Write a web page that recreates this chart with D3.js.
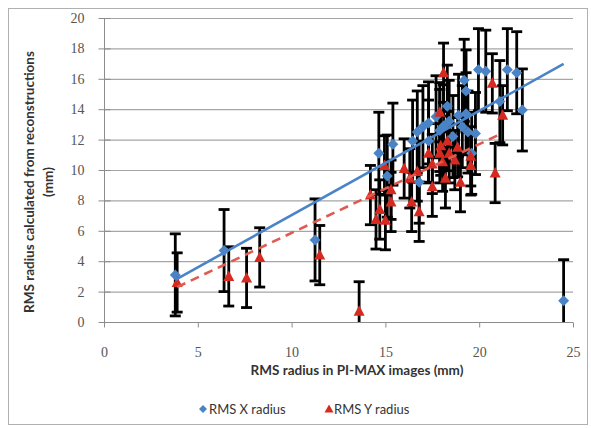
<!DOCTYPE html>
<html>
<head>
<meta charset="utf-8">
<script src="https://cdn.jsdelivr.net/npm/d3@7"></script>
<style>
  body { margin: 0; background: #fff; }
  svg { display: block; }
</style>
</head>
<body>
<div id="chart"></div>
<script>
// RMS X radius: [PI-MAX radius, reconstructed radius] in mm
const xRadius = [
  [3.8, 3.1], [6.4, 4.7], [11.25, 5.4], [14.65, 11.1], [15.4, 11.7], [15.1, 9.6],
  [16.8, 9.2], [16.45, 11.9], [16.7, 12.5], [17.0, 12.85], [17.3, 13.1], [17.3, 11.9],
  [17.7, 13.5], [17.9, 12.6], [18.1, 12.9], [18.3, 14.2], [18.4, 13.2], [18.6, 12.2],
  [18.9, 13.6], [19.1, 12.85], [19.2, 15.9], [19.3, 15.2], [19.4, 12.5], [19.3, 13.7],
  [19.6, 11.1], [19.8, 12.4], [19.96, 16.6], [20.35, 16.5], [21.1, 14.5], [21.5, 16.6],
  [22.0, 16.4], [22.3, 13.95], [24.5, 1.4]
];
// RMS Y radius
const yRadius = [
  [3.9, 2.6], [6.65, 3.0], [7.6, 2.9], [8.3, 4.25], [11.5, 4.4], [13.6, 0.7],
  [14.2, 8.35], [14.5, 6.75], [14.7, 7.4], [14.95, 10.3], [15.0, 6.7], [15.3, 8.7],
  [15.3, 7.9], [16.0, 10.1], [16.3, 9.45], [16.4, 7.9], [16.7, 9.9], [16.8, 7.25],
  [17.3, 11.1], [17.5, 10.4], [17.5, 8.9], [17.9, 13.8], [17.9, 11.1], [17.95, 11.6],
  [18.05, 10.55], [18.1, 16.4], [18.2, 9.45], [18.3, 11.9], [18.4, 11.1], [18.7, 10.65],
  [18.85, 11.5], [19.0, 9.2], [19.55, 10.9], [19.55, 10.3], [20.7, 15.7], [20.85, 9.8],
  [21.25, 13.6]
];
const xErr = 2.7;
const yErr = 1.95;
const xTrend = { slope: 0.686, intercept: 0.17 };
const yTrend = { slope: 0.584, intercept: 0.02 };
const xTicks = [0, 5, 10, 15, 20, 25];
const yTicks = [0, 2, 4, 6, 8, 10, 12, 14, 16, 18, 20];

const width = 591, height = 428;
const blue = "#4a84c6", red = "#d52a20";

const svg = d3.select("#chart").append("svg").attr("width", width).attr("height", height);

svg.append("rect")
  .attr("x", 8.5).attr("y", 8.5).attr("width", 579).attr("height", 416)
  .attr("fill", "#fff").attr("stroke", "#b0b0b0");

const x = d3.scaleLinear().domain([0, 25]).range([104, 573]);
const y = d3.scaleLinear().domain([0, 20]).range([322, 18]);

// gridlines
svg.append("g")
  .selectAll("line")
  .data(yTicks.filter((d) => d > 0))
  .join("line")
  .attr("x1", x(0)).attr("x2", x(25))
  .attr("y1", (d) => y(d) + 0.5).attr("y2", (d) => y(d) + 0.5)
  .attr("stroke", "#a6a6a6").attr("stroke-width", 1.2);

// axes
const yAxis = svg.append("g")
  .attr("transform", `translate(${x(0) + 0.5},0)`)
  .call(d3.axisLeft(y).tickValues(yTicks).tickSize(6).tickPadding(14));
yAxis.selectAll(".tick line").attr("x2", -6).attr("x1", 6).attr("stroke", "#8c8c8c");
yAxis.select(".domain").attr("stroke", "#8c8c8c").attr("d", `M0,${y(20)}V${y(0)}`);

const xAxis = svg.append("g")
  .attr("transform", `translate(0,${y(0) + 0.5})`)
  .call(d3.axisBottom(x).tickValues(xTicks).tickSize(5).tickPadding(20));
xAxis.selectAll(".tick line").attr("stroke", "#8c8c8c");
xAxis.select(".domain").attr("stroke", "#8c8c8c").attr("d", `M${x(0)},0H${x(25)}`);

svg.selectAll(".tick text")
  .attr("font-family", "Liberation Serif, serif")
  .attr("font-size", 14)
  .attr("fill", "#555");

// plot clip
svg.append("clipPath").attr("id", "plot")
  .append("rect").attr("x", x(0)).attr("y", y(20) - 10).attr("width", x(25) - x(0) + 10).attr("height", y(0) - y(20) + 10);

const plot = svg.append("g").attr("clip-path", "url(#plot)");

function errorBars(data, err) {
  const g = plot.append("g").attr("stroke", "#000").attr("stroke-width", 2.8);
  g.selectAll("line.v").data(data).join("line").attr("class", "v")
    .attr("x1", (d) => x(d[0])).attr("x2", (d) => x(d[0]))
    .attr("y1", (d) => y(d[1] + err)).attr("y2", (d) => y(d[1] - err));
  g.selectAll("line.t").data(data).join("line").attr("class", "t")
    .attr("x1", (d) => x(d[0]) - 5.5).attr("x2", (d) => x(d[0]) + 5.5)
    .attr("y1", (d) => y(d[1] + err)).attr("y2", (d) => y(d[1] + err));
  g.selectAll("line.b").data(data.filter((d) => d[1] - err > 0)).join("line").attr("class", "b")
    .attr("x1", (d) => x(d[0]) - 5.5).attr("x2", (d) => x(d[0]) + 5.5)
    .attr("y1", (d) => y(d[1] - err)).attr("y2", (d) => y(d[1] - err));
}

function trend(data, t, color, dash) {
  const ext = d3.extent(data, (d) => d[0]);
  plot.append("line")
    .attr("x1", x(ext[0])).attr("y1", y(t.slope * ext[0] + t.intercept))
    .attr("x2", x(ext[1])).attr("y2", y(t.slope * ext[1] + t.intercept))
    .attr("stroke", color).attr("stroke-width", 2.6)
    .attr("stroke-dasharray", dash);
}

const diamond = "M0,-5.5L5.5,0L0,5.5L-5.5,0Z";
const triangle = "M0,-6L5.5,4.5L-5.5,4.5Z";

errorBars(xRadius, xErr);
errorBars(yRadius, yErr);

plot.append("g").selectAll("path").data(xRadius).join("path")
  .attr("d", diamond).attr("fill", blue)
  .attr("transform", (d) => `translate(${x(d[0])},${y(d[1])})`);

plot.append("g").selectAll("path").data(yRadius).join("path")
  .attr("d", triangle).attr("fill", red)
  .attr("transform", (d) => `translate(${x(d[0])},${y(d[1])})`);

trend(xRadius, xTrend, blue, null);
trend(yRadius, yTrend, "#e05a50", "9,6");

// axis titles
const yTitle = svg.append("text")
  .attr("transform", "translate(29,182) rotate(-90)")
  .attr("text-anchor", "middle")
  .attr("font-family", "Lato, sans-serif").attr("font-weight", "bold").attr("font-size", 13.5)
  .attr("fill", "#333");
yTitle.append("tspan").attr("x", 0).attr("dy", "0.35em").text("RMS radius calculated from reconstructions");
yTitle.append("tspan").attr("x", 0).attr("dy", "1.45em").text("(mm)");

svg.append("text")
  .attr("x", 357).attr("y", 375)
  .attr("text-anchor", "middle")
  .attr("font-family", "Lato, sans-serif").attr("font-weight", "bold").attr("font-size", 13.5)
  .attr("fill", "#333")
  .text("RMS radius in PI-MAX images (mm)");

// legend
const legend = svg.append("g").attr("font-family", "Lato, sans-serif").attr("font-size", 13).attr("fill", "#333");
legend.append("path").attr("d", "M0,-4L4,0L0,4L-4,0Z").attr("fill", blue).attr("transform", "translate(203,409)");
legend.append("text").attr("x", 209).attr("y", 413.5).text("RMS X radius");
legend.append("path").attr("d", "M0,-4.5L4.5,3.5L-4.5,3.5Z").attr("fill", red).attr("transform", "translate(329,409)");
legend.append("text").attr("x", 334).attr("y", 413.5).text("RMS Y radius");
</script>
</body>
</html>
